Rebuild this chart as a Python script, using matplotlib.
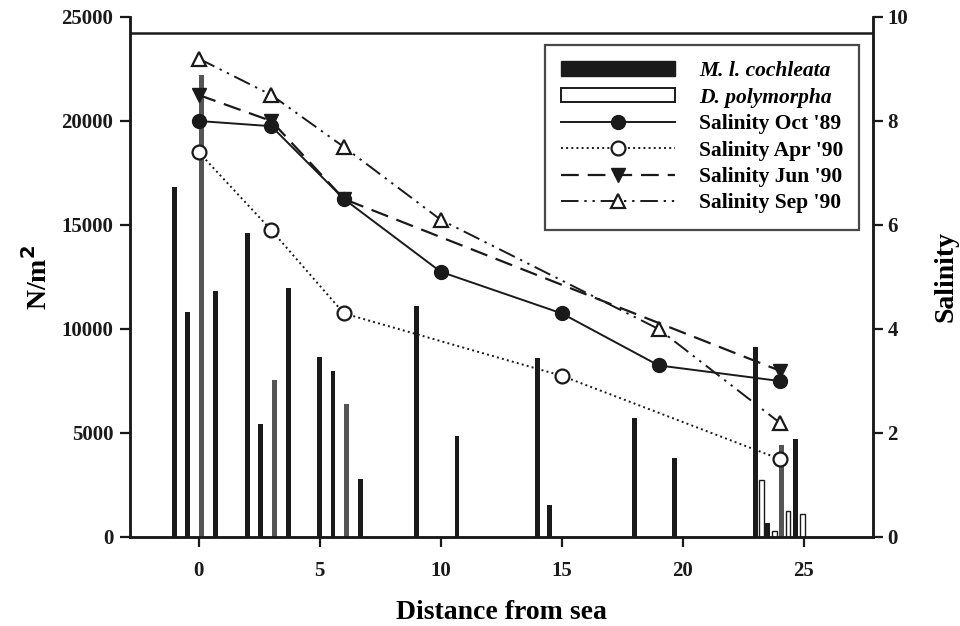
import matplotlib
matplotlib.use("Agg")
import matplotlib.pyplot as plt
from matplotlib.patches import Patch
from matplotlib.lines import Line2D

plt.rcParams['font.family'] = ['Liberation Serif', 'DejaVu Serif']
plt.rcParams['font.weight'] = 'bold'

# --- data (abundance bars, N/m^2) ---
ml_x = [-1.0, -0.45, 0.7, 2.0, 2.55, 3.7, 5.0, 5.55, 6.7, 9.0, 10.67, 14.0, 14.5, 18.0, 19.67, 23.0, 23.5, 24.65]
ml_y = [16850, 10800, 11850, 14600, 5450, 11950, 8650, 8000, 2800, 11100, 4850, 8600, 1550, 5700, 3800, 9150, 650, 4700]
gray_x = [0.12, 3.13, 6.1, 24.07]
gray_y = [22200, 7550, 6400, 4400]
dp_x = [23.25, 23.8, 24.35, 24.95]
dp_y = [2750, 300, 1250, 1100]

# --- salinity series ---
oct89_x = [0, 3, 6, 10, 15, 19, 24]
oct89_y = [8.0, 7.9, 6.5, 5.1, 4.3, 3.3, 3.0]
apr90_x = [0, 3, 6, 15, 24]
apr90_y = [7.4, 5.9, 4.3, 3.1, 1.5]
jun90_x = [0, 3, 6, 24]
jun90_y = [8.5, 8.0, 6.5, 3.2]
sep90_x = [0, 3, 6, 10, 19, 24]
sep90_y = [9.2, 8.5, 7.5, 6.1, 4.0, 2.2]

fig = plt.figure(figsize=(9.6, 6.26), dpi=100)
ax = fig.add_axes([130/960, 1-537/626, (873-130)/960, (537-17)/626])
ax2 = ax.twinx()

bw = 0.2
ax.bar(ml_x, ml_y, width=bw, color='#1a1a1a', zorder=2)
ax.bar(gray_x, gray_y, width=bw, color='#555555', zorder=2)
ax.bar(dp_x, dp_y, width=bw, color='white', edgecolor='#1a1a1a', linewidth=1.0, zorder=2)

ax.set_xlim(-2.84, 27.86)
ax.set_ylim(0, 25000)
ax2.set_ylim(0, 10)
ax.axhline(24250, color='#1a1a1a', lw=1.8, zorder=5)

lc = '#1a1a1a'
ms = 10
l1, = ax2.plot(oct89_x, oct89_y, '-', color=lc, lw=1.4, marker='o', ms=ms, mfc=lc, mec=lc)
l2, = ax2.plot(apr90_x, apr90_y, ':', color=lc, lw=1.4, marker='o', ms=ms, mfc='white', mec=lc, mew=1.6)
l3, = ax2.plot(jun90_x, jun90_y, color=lc, lw=1.6, marker='v', ms=ms, mfc=lc, mec=lc, dashes=(8, 4))
l4, = ax2.plot(sep90_x, sep90_y, color=lc, lw=1.4, marker='^', ms=ms, mfc='white', mec=lc, mew=1.6,
               dashes=(9, 3, 1.2, 3, 1.2, 3))

for a in (ax, ax2):
    a.spines['top'].set_visible(False)
    for s in ('left', 'right', 'bottom'):
        a.spines[s].set_linewidth(1.8)
        a.spines[s].set_color(lc)
    a.tick_params(width=1.6, length=7, labelsize=15, colors=lc)

ax.set_xticks([0, 5, 10, 15, 20, 25])
ax.set_yticks([0, 5000, 10000, 15000, 20000, 25000])
ax2.set_yticks([0, 2, 4, 6, 8, 10])
ax.tick_params(axis='x', pad=10)
ax.tick_params(axis='y', pad=5)
for lab in ax.get_xticklabels() + ax.get_yticklabels() + ax2.get_yticklabels():
    lab.set_fontweight('bold')

ax.set_xlabel('Distance from sea', fontsize=20, fontweight='bold', labelpad=14)
ax.set_ylabel('N/m$^\\mathbf{2}$', fontsize=20, fontweight='bold', labelpad=6)
ax2.set_ylabel('Salinity', fontsize=20, fontweight='bold', labelpad=18)

handles = [Patch(facecolor='#1a1a1a', edgecolor='#1a1a1a'),
           Patch(facecolor='white', edgecolor='#1a1a1a', linewidth=1.4),
           l1, l2, l3, l4]
labels = ['M. l. cochleata', 'D. polymorpha', "Salinity Oct '89", "Salinity Apr '90",
          "Salinity Jun '90", "Salinity Sep '90"]
leg = ax2.legend(handles, labels, loc='upper left', bbox_to_anchor=(545/960, 1-45/626),
                 bbox_transform=fig.transFigure, fontsize=15.5, frameon=True, fancybox=False,
                 edgecolor=lc, handlelength=5.3, handleheight=0.65, labelspacing=0.3,
                 borderpad=0.75, handletextpad=1.1, borderaxespad=0)
leg.get_frame().set_linewidth(1.6)
for i, t in enumerate(leg.get_texts()):
    t.set_fontweight('bold')
    if i < 2:
        t.set_fontstyle('italic')

fig.savefig('out.png', dpi=100)
